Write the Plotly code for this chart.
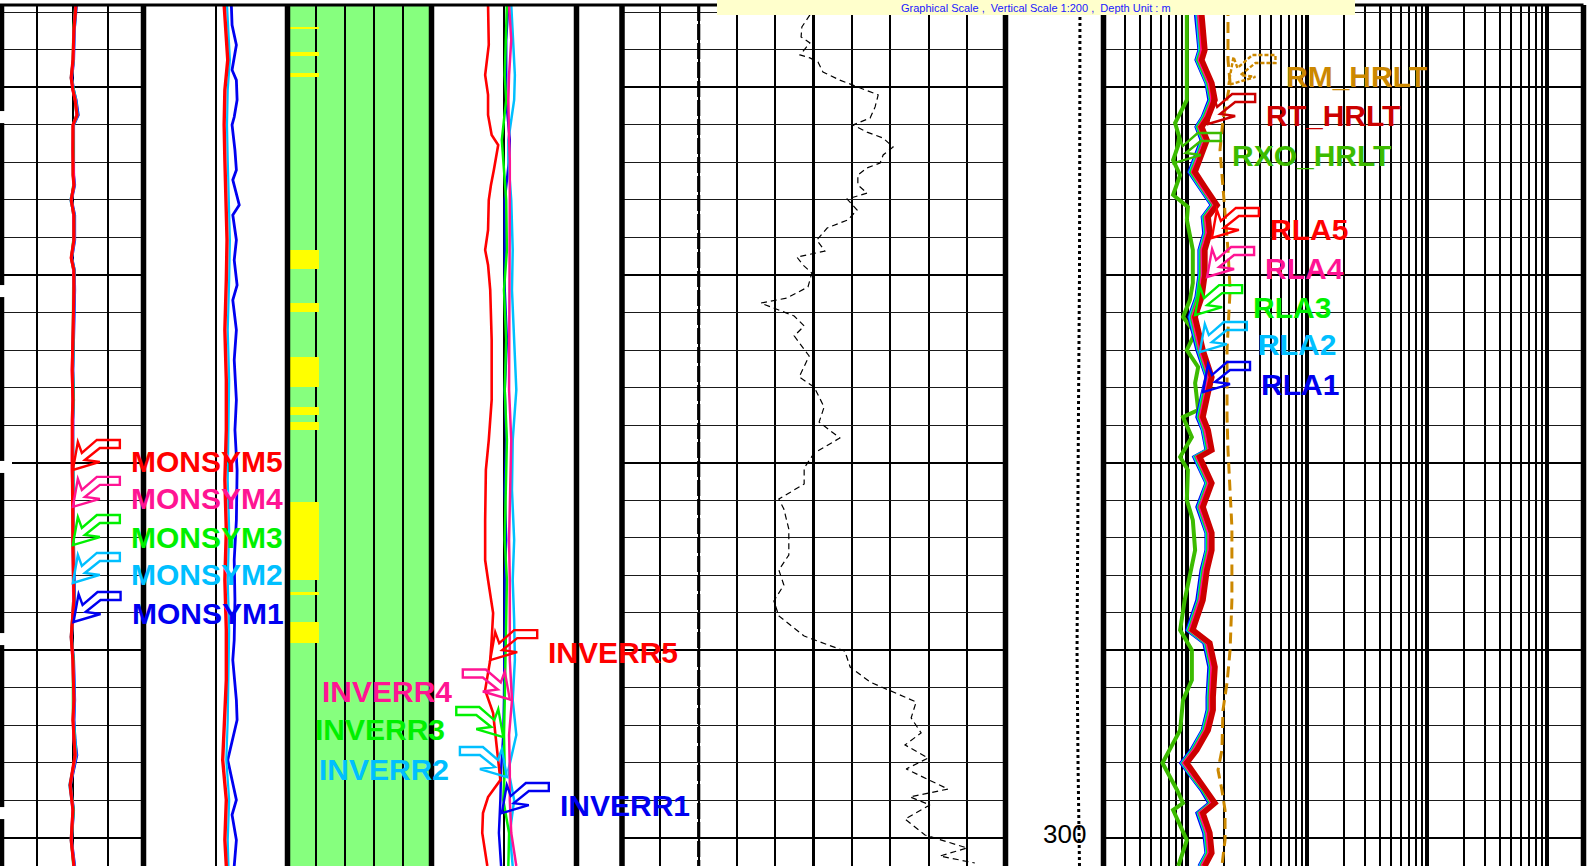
import numpy as np
import plotly.graph_objects as go

FIG_W, FIG_H = 1596, 866
HEADER_PX = 5
DEPTH_TOP, DEPTH_BASE = 255.62, 301.49

# ---------------------------------------------------------------- track layout
TRACK_PX = {1: (1.5, 143.5), 2: (143.5, 287.5), 3: (287.5, 431.5), 4: (431.5, 576.5),
            5: (576.5, 621.0), 6: (622.0, 1005.5), 7: (1005.5, 1103.5), 8: (1103.5, 1583.5)}
BORDERS_PX = [1.5, 143.5, 287.5, 431.5, 576.5, 622.0, 1005.5, 1103.5, 1583.5]
X_RANGE = {1: [0, 4], 2: [0, 2], 3: [0, 5], 4: [0, 2], 5: [0, 2], 6: [0, 100], 7: [0, 1],
           8: [np.log10(0.2), np.log10(2000)]}

# ---------------------------------------------------------------- track 1 : MONSYM
monsym_depth = [255.62, 256.95, 258.55, 259.51, 260.15, 260.68, 261.48, 262.01, 263.35, 264.68,
                265.21, 266.01, 266.81, 268.14, 269.10, 269.74, 270.80, 272.93, 275.07, 276.66,
                277.73, 279.59, 280.39, 282.52, 284.39, 287.32, 289.29, 290.52, 292.65, 293.71,
                294.78, 295.58, 297.18, 298.51, 300.11, 301.49]
monsym1 = [2.11, 2.05, 2.03, 1.98, 2.03, 2.10, 2.16, 2.03, 2.03, 2.03, 2.06, 1.97, 2.06, 2.06, 1.98, 2.05,
           2.06, 2.03, 2.01, 2.03, 2.01, 2.01, 2.01, 2.03, 2.03, 2.06, 1.97, 2.03, 2.06, 2.04, 2.07, 2.12,
           1.94, 2.03, 1.97, 2.06]
monsym2 = [2.10, 2.05, 2.02, 1.96, 2.03, 2.09, 2.14, 2.03, 2.02, 2.02, 2.05, 1.95, 2.05, 2.05, 1.97, 2.05,
           2.05, 2.02, 2.00, 2.02, 2.00, 2.00, 2.00, 2.02, 2.02, 2.05, 1.96, 2.02, 2.05, 2.03, 2.06, 2.10,
           1.92, 2.02, 1.96, 2.05]
monsym3 = [2.09, 2.03, 2.02, 1.97, 2.02, 2.08, 2.12, 2.02, 2.02, 2.02, 2.03, 1.97, 2.03, 2.03, 1.97, 2.03,
           2.03, 2.02, 2.00, 2.02, 2.00, 2.00, 2.00, 2.02, 2.02, 2.03, 1.97, 2.02, 2.03, 2.02, 2.05, 2.08,
           1.94, 2.02, 1.97, 2.03]
monsym4 = [2.09, 2.04, 2.02, 1.97, 2.01, 2.08, 2.12, 2.02, 2.01, 2.02, 2.04, 1.97, 2.03, 2.04, 1.97, 2.03,
           2.04, 2.02, 1.99, 2.01, 2.00, 1.99, 1.99, 2.02, 2.01, 2.03, 1.97, 2.01, 2.04, 2.02, 2.04, 2.08,
           1.94, 2.01, 1.97, 2.04]
monsym5 = [2.10, 2.04, 2.01, 1.96, 2.01, 2.07, 2.13, 2.01, 2.01, 2.01, 2.04, 1.96, 2.04, 2.04, 1.96, 2.04,
           2.04, 2.01, 1.99, 2.01, 1.99, 1.99, 1.99, 2.01, 2.01, 2.04, 1.96, 2.01, 2.04, 2.01, 2.04, 2.07,
           1.93, 2.01, 1.96, 2.04]

# ---------------------------------------------------------------- track 2
t2_depth = [255.62, 258.55, 260.15, 262.01, 263.88, 266.01, 268.14, 270.27, 272.93, 275.60, 278.26,
            280.93, 283.59, 286.25, 288.92, 291.58, 293.71, 295.84, 297.97, 300.11, 301.49]
t2_red = [1.12, 1.17, 1.13, 1.12, 1.13, 1.15, 1.16, 1.15, 1.13, 1.15, 1.15, 1.13, 1.15, 1.13, 1.15, 1.15,
          1.13, 1.10, 1.15, 1.13, 1.15]
t2_cyan = [1.16, 1.20, 1.17, 1.16, 1.17, 1.19, 1.20, 1.19, 1.17, 1.19, 1.18, 1.17, 1.19, 1.17, 1.19, 1.18,
           1.17, 1.15, 1.19, 1.17, 1.18]
t2_blue_depth = [255.62, 256.69, 257.75, 259.08, 259.62, 260.68, 261.59, 262.01, 263.35, 264.41, 264.94,
                 266.27, 266.81, 268.14, 269.21, 270.54, 271.34, 272.93, 274.53, 276.66, 278.26, 280.39,
                 283.06, 285.19, 287.32, 289.45, 290.52, 292.65, 293.71, 295.84, 296.91, 297.97, 298.77,
                 300.11, 301.49]
t2_blue = [1.22, 1.23, 1.29, 1.23, 1.29, 1.30, 1.26, 1.23, 1.27, 1.29, 1.24, 1.33, 1.24, 1.29, 1.26, 1.30,
           1.24, 1.29, 1.26, 1.29, 1.27, 1.30, 1.29, 1.26, 1.27, 1.26, 1.24, 1.29, 1.30, 1.17, 1.23, 1.29,
           1.23, 1.29, 1.26]

# ---------------------------------------------------------------- track 3 : flag intervals
flag_top = [256.79, 258.12, 259.24, 268.67, 271.50, 274.37, 277.04, 277.84, 282.10, 286.89, 288.49]
flag_base = [256.90, 258.34, 259.46, 269.68, 271.98, 275.97, 277.46, 278.26, 286.25, 287.05, 289.61]
flag_value = [1.08] * len(flag_top)

# ---------------------------------------------------------------- track 4 : INVERR
inverr_depth = [255.62, 257.48, 259.35, 260.68, 262.81, 263.88, 266.01, 268.67, 270.80, 273.47, 276.13,
                278.80, 281.46, 284.12, 286.25, 288.38, 290.52, 292.65, 294.51, 296.38, 297.97, 299.73,
                301.49]
inverr1 = [1.06, 1.03, 1.03, 1.03, 1.08, 1.07, 1.01, 1.01, 1.01, 1.04, 1.01, 1.03, 1.01, 1.03, 1.01, 1.01,
           1.01, 1.00, 0.99, 0.96, 0.95, 0.93, 0.96]
inverr2 = [1.10, 1.12, 1.15, 1.14, 1.06, 1.06, 1.10, 1.12, 1.11, 1.14, 1.17, 1.12, 1.11, 1.14, 1.12, 1.14,
           1.15, 1.12, 1.17, 1.06, 1.14, 1.08, 1.12]
inverr3 = [1.04, 1.03, 1.01, 1.03, 0.97, 0.99, 1.03, 1.04, 1.00, 1.03, 1.01, 1.04, 1.03, 1.01, 1.04, 1.03,
           1.03, 1.01, 1.00, 1.01, 0.99, 1.07, 1.06]
inverr4 = [1.07, 1.10, 1.07, 1.06, 1.07, 1.08, 1.08, 1.08, 1.08, 1.08, 1.07, 1.10, 1.08, 1.07, 1.08, 1.08,
           1.08, 1.11, 1.07, 1.08, 1.08, 1.10, 1.17]
inverr5_depth = [255.62, 257.75, 259.35, 260.41, 261.48, 262.01, 262.55, 263.08, 263.61, 264.41, 265.21,
                 266.01, 267.61, 268.67, 269.47, 270.80, 273.47, 276.66, 278.80, 280.39, 283.06, 285.19,
                 286.25, 288.01, 289.45, 290.52, 292.12, 293.34, 295.15, 296.91, 297.82, 298.67, 299.73,
                 301.49]
inverr5 = [0.78, 0.79, 0.74, 0.78, 0.78, 0.81, 0.83, 0.92, 0.90, 0.86, 0.82, 0.79, 0.78, 0.74, 0.78, 0.81,
           0.83, 0.83, 0.79, 0.75, 0.74, 0.74, 0.78, 0.85, 0.83, 0.81, 0.74, 0.85, 0.90, 0.95, 0.78, 0.71,
           0.70, 0.77]

# ---------------------------------------------------------------- track 6
t6_depth = [256.15, 256.79, 257.32, 257.64, 258.28, 258.44, 258.66, 259.19, 259.62, 259.88,
            260.41, 261.05, 261.64, 262.01, 262.39, 262.71, 263.19, 263.61, 264.04, 264.30,
            264.68, 265.21, 265.64, 265.96, 266.54, 267.07, 267.50, 268.14, 268.73, 269.05,
            269.47, 269.90, 270.64, 271.23, 271.50, 272.19, 272.72, 273.25, 274.32, 275.44,
            275.97, 277.04, 277.84, 278.69, 279.49, 280.29, 281.14, 281.94, 282.47, 283.54,
            284.92, 285.72, 286.52, 287.37, 288.17, 289.24, 290.04, 290.89, 291.69, 292.75,
            293.60, 294.40, 295.04, 295.74, 296.32, 297.39, 297.81, 298.24, 298.99, 299.84,
            300.53, 300.96, 301.33]
t6_curve = [49.0, 46.9, 46.7, 49.0, 46.4, 49.0, 51.1, 52.4, 56.8, 60.2,
            66.8, 66.0, 64.7, 60.2, 63.9, 68.1, 70.7, 68.1, 67.3, 63.9,
            61.5, 61.5, 63.9, 58.7, 61.3, 58.9, 53.5, 50.8, 52.9, 45.6,
            47.2, 49.5, 48.5, 43.0, 36.2, 44.9, 47.5, 44.9, 48.8, 46.2,
            50.1, 52.7, 51.4, 56.8, 50.1, 47.5, 47.5, 40.9, 42.2, 43.5,
            43.5, 40.9, 42.2, 39.6, 40.9, 47.5, 58.1, 59.5, 64.7, 76.7,
            75.4, 78.0, 73.8, 79.8, 74.1, 85.0, 75.1, 80.3, 73.8, 79.0,
            90.0, 82.9, 92.0]
t6_cutoff_depth = [255.62, 301.49]
t6_cutoff = [20, 20]

# ---------------------------------------------------------------- track 7 : depth track
t7_depth = [255.62, 263.0, 270.0, 277.0, 284.0, 290.0, 296.0, 301.49]
t7_curve = [0.76, 0.76, 0.755, 0.745, 0.735, 0.73, 0.74, 0.755]
depth_label = [300]
tick_depth = [261.59, 270.86, 280.23, 289.40, 298.67]

# ---------------------------------------------------------------- track 8 : resistivity (ohm.m)
res_depth = [255.62, 256.15, 258.02, 258.55, 259.78, 260.68, 261.59, 262.12, 262.81, 263.88,
             264.52, 265.32, 266.28, 266.91, 267.77, 268.67, 270.00, 271.18, 272.24, 274.00,
             275.44, 276.29, 277.57, 278.26, 279.33, 279.70, 281.09, 282.36, 283.75, 284.66,
             285.72, 287.32, 288.92, 289.61, 290.89, 292.49, 293.18, 294.25, 295.31, 296.00,
             296.75, 297.44, 298.14, 298.67, 299.73, 300.80, 301.49]
rt_hrlt = [1.32, 1.32, 1.40, 1.32, 1.60, 1.70, 1.49, 1.32, 1.46, 1.27, 1.16, 1.40, 1.77, 1.49, 1.54, 1.40,
           1.40, 1.32, 1.16, 1.35, 1.60, 1.49, 1.35, 1.49, 1.60, 1.27, 1.60, 1.35, 1.60, 1.60, 1.46, 1.35,
           1.11, 1.54, 1.70, 1.64, 1.64, 1.49, 1.20, 0.99, 1.20, 1.46, 1.70, 1.35, 1.54, 1.60, 1.40]
rla5 = [1.29, 1.28, 1.36, 1.29, 1.56, 1.64, 1.45, 1.27, 1.42, 1.24, 1.12, 1.37, 1.71, 1.45, 1.50, 1.36,
        1.37, 1.28, 1.13, 1.31, 1.55, 1.45, 1.31, 1.45, 1.56, 1.23, 1.55, 1.31, 1.56, 1.55, 1.42, 1.31,
        1.08, 1.49, 1.65, 1.59, 1.60, 1.44, 1.17, 0.96, 1.17, 1.41, 1.65, 1.31, 1.50, 1.55, 1.36]
rla4 = [1.25, 1.24, 1.32, 1.25, 1.51, 1.60, 1.41, 1.25, 1.38, 1.20, 1.10, 1.32, 1.67, 1.41, 1.45, 1.32,
        1.33, 1.25, 1.10, 1.27, 1.51, 1.41, 1.28, 1.40, 1.51, 1.20, 1.51, 1.27, 1.51, 1.51, 1.38, 1.27,
        1.05, 1.45, 1.60, 1.55, 1.55, 1.41, 1.13, 0.93, 1.13, 1.38, 1.60, 1.27, 1.45, 1.51, 1.32]
rla3 = [1.22, 1.23, 1.30, 1.22, 1.48, 1.57, 1.38, 1.22, 1.35, 1.18, 1.07, 1.30, 1.64, 1.38, 1.43, 1.30,
        1.29, 1.22, 1.08, 1.25, 1.48, 1.38, 1.25, 1.38, 1.48, 1.18, 1.48, 1.25, 1.48, 1.48, 1.35, 1.25,
        1.03, 1.43, 1.57, 1.52, 1.52, 1.38, 1.11, 0.92, 1.11, 1.35, 1.57, 1.25, 1.43, 1.48, 1.30]
rla2 = [1.20, 1.20, 1.27, 1.20, 1.45, 1.55, 1.35, 1.20, 1.33, 1.15, 1.05, 1.27, 1.61, 1.35, 1.40, 1.27,
        1.27, 1.20, 1.05, 1.23, 1.45, 1.35, 1.23, 1.35, 1.45, 1.15, 1.45, 1.23, 1.45, 1.45, 1.33, 1.23,
        1.01, 1.40, 1.55, 1.49, 1.49, 1.35, 1.09, 0.90, 1.09, 1.33, 1.55, 1.23, 1.40, 1.45, 1.27]
rla1 = [1.18, 1.17, 1.25, 1.18, 1.43, 1.51, 1.33, 1.18, 1.30, 1.13, 1.03, 1.25, 1.58, 1.33, 1.37, 1.25,
        1.25, 1.18, 1.03, 1.20, 1.43, 1.33, 1.20, 1.33, 1.43, 1.13, 1.43, 1.20, 1.43, 1.43, 1.30, 1.20,
        0.99, 1.37, 1.51, 1.46, 1.46, 1.33, 1.07, 0.88, 1.07, 1.30, 1.51, 1.20, 1.37, 1.43, 1.25]
rxo_depth = [255.62, 258.02, 260.68, 261.91, 262.81, 263.88, 264.68, 265.74, 266.38, 267.07,
             268.67, 270.43, 271.34, 272.24, 273.09, 274.00, 274.91, 275.76, 277.20, 277.57,
             278.64, 279.70, 280.39, 281.99, 283.06, 284.66, 287.32, 288.92, 289.98, 291.58,
             292.65, 294.25, 296.00, 297.44, 298.14, 298.51, 300.11, 301.49]
rxo_hrlt = [0.99, 0.99, 0.99, 0.79, 0.87, 0.76, 0.87, 0.76, 1.01, 0.99, 1.11, 1.11, 1.05, 0.92, 1.16, 0.99,
            1.23, 1.16, 1.23, 0.92, 1.09, 0.87, 1.01, 0.99, 1.11, 1.16, 0.95, 0.87, 1.09, 1.09, 0.92, 0.87,
            0.62, 0.82, 0.92, 0.76, 0.99, 0.84]
rm_depth = [255.62, 258.55, 259.78, 261.75, 263.35, 265.48, 266.54, 268.67, 270.80, 274.00, 277.57,
            279.33, 283.43, 287.32, 289.98, 291.74, 293.18, 295.31, 296.38, 297.44, 298.51, 300.11, 301.49]
rm_hrlt = [2.18, 2.18, 2.27, 1.98, 1.87, 1.98, 2.06, 2.18, 2.27, 2.14, 2.14, 2.18, 2.35, 2.35, 2.27, 2.14,
           1.98, 1.94, 1.80, 1.94, 2.06, 2.06, 1.94]

# ---------------------------------------------------------------- curve labels (anchored on the curves)
label_track = [1, 1, 1, 1, 1, 4, 4, 4, 4, 4, 8, 8, 8, 8, 8, 8, 8, 8]
label_text = ['MONSYM5', 'MONSYM4', 'MONSYM3', 'MONSYM2', 'MONSYM1',
              'INVERR5', 'INVERR4', 'INVERR3', 'INVERR2', 'INVERR1',
              'RM_HRLT', 'RT_HRLT', 'RXO_HRLT', 'RLA5', 'RLA4', 'RLA3', 'RLA2', 'RLA1']
label_depth = [280.39, 282.36, 284.39, 286.41, 288.49,
               290.52, 292.62, 294.62, 296.75, 298.67,
               259.88, 261.96, 264.04, 268.03, 270.11, 272.14, 274.11, 276.24]
label_value = [2.01, 2.01, 2.01, 2.01, 2.03,
               0.81, 1.08, 0.99, 1.04, 0.97,
               2.20, 1.49, 0.77, 1.60, 1.46, 1.16, 1.27, 1.35]
label_side = [1, 1, 1, 1, 1, 1, -1, -1, -1, 1, 1, 1, 1, 1, 1, 1, 1, 1]

RED, PINK, LIME, CYAN, BLUE = '#FF0000', '#FF1493', '#00F000', '#00BFFF', '#0000F0'
RT_COL, RXO_COL, RM_COL = '#CC0000', '#3CBB00', '#CC8800'
GREEN_BG, FLAG_YELLOW = '#86FF7E', '#FFFF00'
label_color = [RED, PINK, LIME, CYAN, BLUE, RED, PINK, LIME, CYAN, BLUE,
               RM_COL, RT_COL, RXO_COL, RED, PINK, LIME, CYAN, BLUE]
FONT = 'Liberation Sans, Arial, sans-serif'

# outline of the flag-style pointer drawn from a label to its curve (pixels, y up)
CALLOUT = [(0, 0), (5, 28), (9, 17), (24, 30), (47, 30), (47, 22), (27, 22), (12, 10), (27, 8)]


def xn(k):
    return 'x' if k == 1 else f'x{k}'


def yn(k):
    return 'y' if k == 1 else f'y{k}'


fig = go.Figure()


def curve(k, x, y, color, width, dash='solid'):
    fig.add_trace(go.Scatter(x=x, y=y, mode='lines', xaxis=xn(k), yaxis=yn(k),
                             line=dict(color=color, width=width, dash=dash),
                             showlegend=False, hoverinfo='skip'))


# track 1
for vals, col in [(monsym1, BLUE), (monsym2, CYAN), (monsym3, LIME), (monsym4, PINK), (monsym5, RED)]:
    curve(1, vals, monsym_depth, col, 3.0)

# track 2
curve(2, t2_blue, t2_blue_depth, BLUE, 2.8)
curve(2, t2_cyan, t2_depth, CYAN, 2.2)
curve(2, t2_red, t2_depth, RED, 3.4)

# track 3 flags as horizontal bars
flag_mid = [(t + b) / 2 for t, b in zip(flag_top, flag_base)]
flag_thick = [b - t for t, b in zip(flag_top, flag_base)]
fig.add_trace(go.Bar(x=flag_value, y=flag_mid, width=flag_thick, base=0, orientation='h',
                     marker=dict(color=FLAG_YELLOW, line=dict(width=0)),
                     xaxis='x3', yaxis='y3', showlegend=False, hoverinfo='skip'))

# track 4
for vals, col in [(inverr1, BLUE), (inverr2, CYAN), (inverr3, LIME), (inverr4, PINK)]:
    curve(4, vals, inverr_depth, col, 2.5)
curve(4, inverr5, inverr5_depth, RED, 2.6)

# track 6
curve(6, t6_cutoff, t6_cutoff_depth, '#000000', 3.2, dash='16px,3px')
curve(6, t6_curve, t6_depth, '#000000', 1.2, dash='6px,4px')

# track 7
curve(7, t7_curve, t7_depth, '#000000', 3.0, dash='3px,3px')

# track 8
curve(8, rm_hrlt, rm_depth, RM_COL, 3.0, dash='11px,6px')
curve(8, rxo_hrlt, rxo_depth, RXO_COL, 4.0)
for vals, col in [(rla1, BLUE), (rla2, CYAN), (rla3, LIME), (rla4, PINK), (rla5, RED)]:
    curve(8, vals, res_depth, col, 3.2)
curve(8, rt_hrlt, res_depth, RT_COL, 5.5)

# ---------------------------------------------------------------- axes
layout = dict(width=FIG_W, height=FIG_H, margin=dict(l=0, r=0, t=0, b=0, pad=0),
              paper_bgcolor='white', plot_bgcolor='white', showlegend=False, bargap=0)
ydom = [0, 1 - HEADER_PX / FIG_H]
for k, (x0, x1) in TRACK_PX.items():
    xa = dict(domain=[x0 / FIG_W, x1 / FIG_W], range=X_RANGE[k], anchor=yn(k),
              showticklabels=False, ticks='', zeroline=False, showline=False, fixedrange=True,
              showgrid=k != 7, gridcolor='#000000', gridwidth=1.5, dtick=1, tick0=0)
    if k == 6:
        xa.update(dtick=50, gridwidth=3.0,
                  minor=dict(dtick=10, tick0=0, showgrid=True, gridcolor='#000000', gridwidth=1.6))
    if k == 8:
        xa.update(type='log', dtick=1, gridwidth=3.5,
                  minor=dict(dtick='D1', showgrid=True, gridcolor='#000000', gridwidth=1.7))
    if k == 4:
        xa.update(gridwidth=2.0)
    ya = dict(domain=ydom, range=[DEPTH_BASE, DEPTH_TOP], anchor=xn(k), showticklabels=False,
              ticks='', zeroline=False, showline=False, fixedrange=True,
              showgrid=k in (1, 6, 8), dtick=10, tick0=0, gridcolor='#000000', gridwidth=2.4,
              minor=dict(dtick=2, tick0=0, showgrid=k in (1, 6, 8), gridcolor='#1a1a1a', gridwidth=1.3))
    if k > 1:
        ya['matches'] = 'y'
    layout['xaxis' if k == 1 else f'xaxis{k}'] = xa
    layout['yaxis' if k == 1 else f'yaxis{k}'] = ya
fig.update_layout(**layout)

# ---------------------------------------------------------------- shapes
shapes = []
# green track backgrounds
shapes.append(dict(type='rect', xref='x3 domain', yref='y3 domain', x0=0, x1=1, y0=0, y1=1,
                   fillcolor=GREEN_BG, line=dict(width=0), layer='below'))
shapes.append(dict(type='rect', xref='x5 domain', yref='y5 domain', x0=0, x1=(616 - 576.5) / (621 - 576.5),
                   y0=0, y1=1, fillcolor=GREEN_BG, line=dict(width=0), layer='below'))
# track borders
for bx in BORDERS_PX:
    shapes.append(dict(type='line', xref='paper', yref='paper', x0=bx / FIG_W, x1=bx / FIG_W,
                       y0=0, y1=ydom[1], line=dict(color='#000000', width=5.5), layer='above'))
# pointers from labels to curves
for k, d, v, s, c, name in zip(label_track, label_depth, label_value, label_side, label_color, label_text):
    pts = [(s * dx, dy) for dx, dy in CALLOUT]
    path = 'M' + ' L'.join(f'{px},{py}' for px, py in pts) + ' Z'
    shapes.append(dict(type='path', xref=xn(k), yref=yn(k), xsizemode='pixel', ysizemode='pixel',
                       xanchor=v, yanchor=d, path=path, fillcolor='rgba(0,0,0,0)', layer='above',
                       line=dict(color=c, width=2.4, dash='4px,2px' if name == 'RM_HRLT' else 'solid')))
# depth ticks on the left edge
for d in tick_depth:
    shapes.append(dict(type='rect', xref='paper', yref='y', x0=0, x1=12 / FIG_W, y0=d - 0.32, y1=d + 0.32,
                       fillcolor='white', line=dict(width=0), layer='above'))
# top frame line and header banner
shapes.append(dict(type='line', xref='paper', yref='paper', x0=0, x1=1583.5 / FIG_W,
                   y0=ydom[1], y1=ydom[1], line=dict(color='#000000', width=3), layer='above'))
shapes.append(dict(type='rect', xref='paper', yref='paper', x0=717 / FIG_W, x1=1355 / FIG_W,
                   y0=1 - 15 / FIG_H, y1=1.02, fillcolor='#FFFFCC', line=dict(width=0), layer='above'))
fig.update_layout(shapes=shapes)

# ---------------------------------------------------------------- annotations
ann = []
for k, d, v, s, c, name in zip(label_track, label_depth, label_value, label_side, label_color, label_text):
    xv = np.log10(v) if k == 8 else v
    ann.append(dict(x=xv, y=d, xref=xn(k), yref=yn(k), text=name, showarrow=False,
                    xanchor='left' if s > 0 else 'right', yanchor='middle', xshift=56 * s, yshift=8,
                    font=dict(family=FONT, size=30, color=c, weight='bold')))
for d in depth_label:
    ann.append(dict(x=0.607, y=d, xref='x7', yref='y7', text=str(d), showarrow=False,
                    xanchor='center', yanchor='middle', yshift=4,
                    font=dict(family=FONT, size=26, color='#000000')))
# header banner caption, kept inside the banner strip
ann.append(dict(x=1036 / FIG_W, y=1 - 7.5 / FIG_H, xref='paper', yref='paper', showarrow=False,
                xanchor='center', yanchor='middle', borderpad=0,
                text='Graphical Scale ,  Vertical Scale 1:200 ,  Depth Unit : m',
                font=dict(family=FONT, size=11, color='#2020FF')))
fig.update_layout(annotations=ann)

fig.write_html('out.html')
